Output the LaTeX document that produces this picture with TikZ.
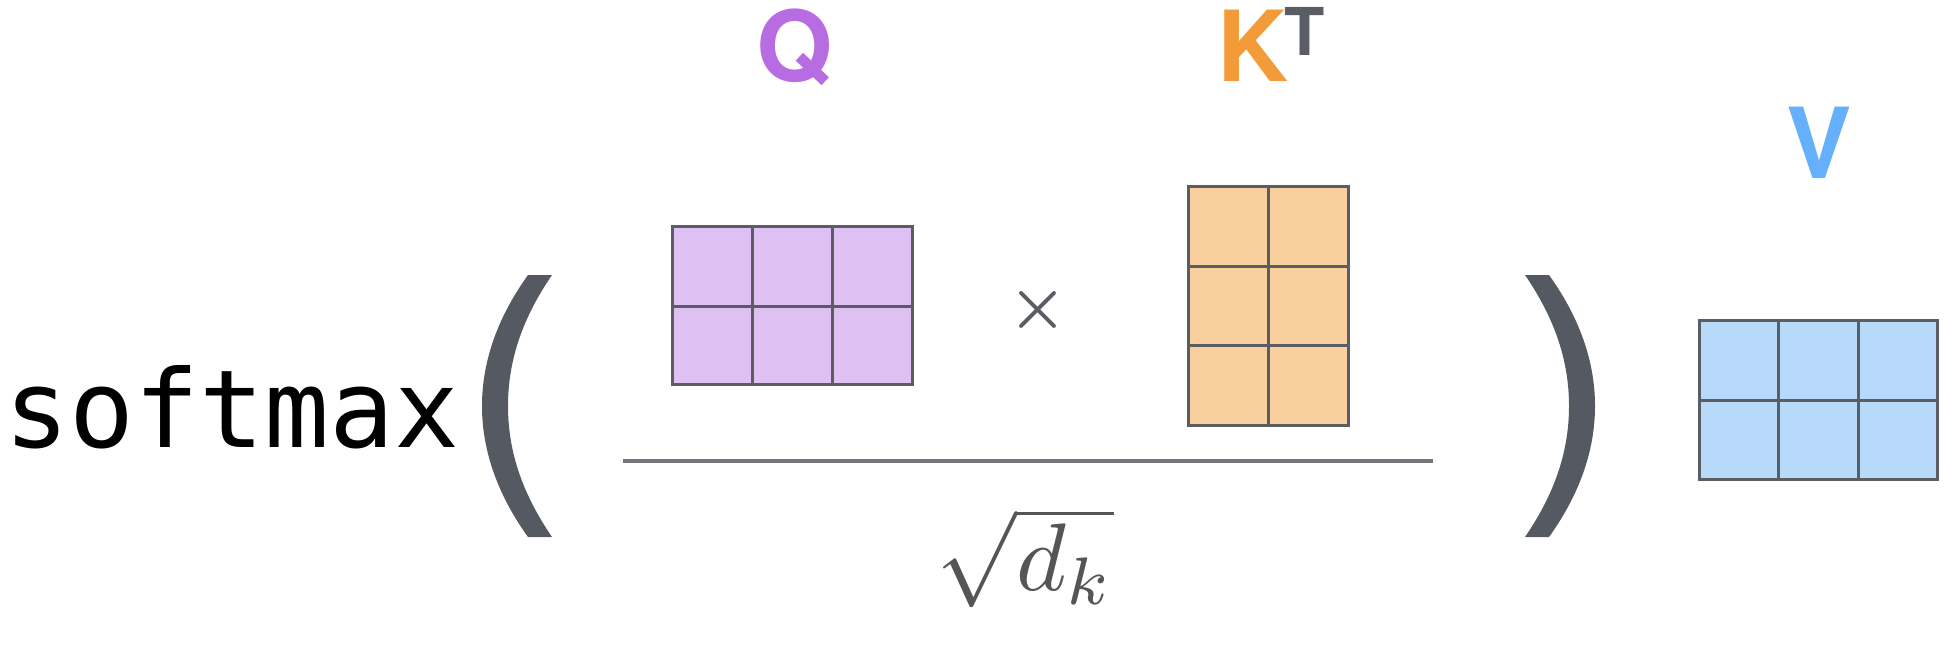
\documentclass[tikz,border=0pt]{standalone}
\usepackage{fontspec}
\setmainfont{Liberation Sans}
\newfontfamily\monofont{DejaVu Sans Mono}
\newfontfamily\labfont{TeX Gyre Heros}
\definecolor{qcol}{RGB}{184,108,226}
\definecolor{kcol}{RGB}{242,155,56}
\definecolor{vcol}{RGB}{100,176,250}
\definecolor{qfill}{RGB}{223,192,243}
\definecolor{kfill}{RGB}{249,207,158}
\definecolor{vfill}{RGB}{184,218,250}
\definecolor{gridc}{RGB}{90,93,100}
\definecolor{parc}{RGB}{85,90,98}
\definecolor{mathc}{RGB}{85,85,88}
\begin{document}
\begin{tikzpicture}[x=1pt,y=-1pt,
  lab/.style={inner sep=0pt,anchor=base,font=\labfont\bfseries\fontsize{98}{110}\selectfont},
  gridline/.style={draw=gridc,line width=3pt},
  parfill/.style={fill=parc}]
\useasboundingbox (0,0) rectangle (1954,648);
% softmax
\node[inner sep=0pt,anchor=base west,font=\monofont\fontsize{108}{120}\selectfont] (sm) at (4,447) {softmax};
% parentheses
\fill[parfill] (528,275) .. controls (500,314) and (482,358) .. (482,406)
  .. controls (482,454) and (500,498) .. (528,537) -- (552,537)
  .. controls (524,496) and (508,454) .. (508,406)
  .. controls (508,358) and (524,316) .. (552,275) -- cycle;
\begin{scope}[xshift=2077pt,xscale=-1]
\fill[parfill] (528,275) .. controls (500,314) and (482,358) .. (482,406)
  .. controls (482,454) and (500,498) .. (528,537) -- (552,537)
  .. controls (524,496) and (508,454) .. (508,406)
  .. controls (508,358) and (524,316) .. (552,275) -- cycle;
\end{scope}
% labels
\node[lab,text=qcol] (Q) at (795,81) {Q};
\node[lab,text=kcol] (K) at (1253,81) {K};
\node[lab,text=gridc,font=\labfont\bfseries\fontsize{66}{70}\selectfont] (T) at (1305,55) {T};
\node[lab,text=vcol] (V) at (1819,178) {V};
% Q matrix 3x2
\fill[qfill] (672,226) rectangle (912,384);
\draw[gridline] (672,226) rectangle (912,384);
\draw[gridline] (752,226) -- (752,384) (832,226) -- (832,384) (672,306) -- (912,306);
% K^T matrix 2x3
\fill[kfill] (1188,186) rectangle (1348,425);
\draw[gridline] (1188,186) rectangle (1348,425);
\draw[gridline] (1268,186) -- (1268,425) (1188,266) -- (1348,266) (1188,345) -- (1348,345);
% V matrix 3x2
\fill[vfill] (1699,320) rectangle (1937,479);
\draw[gridline] (1699,320) rectangle (1937,479);
\draw[gridline] (1778,320) -- (1778,479) (1858,320) -- (1858,479) (1699,400) -- (1937,400);
% times
\node[inner sep=0pt,text=gridc,scale=6.6,font=\boldmath] (times) at (1038,310) {$\times$};
% fraction rule
\coordinate (fl) at (623,461);
\coordinate (fr) at (1433,461);
\draw[draw=gridc!85!white,line width=4pt] (fl) -- (fr);
% denominator
\node[inner sep=0pt,anchor=base,text=mathc,scale=9.6] (den) at (1025,590) {$\sqrt{d_k}$};
\end{tikzpicture}
\end{document}
